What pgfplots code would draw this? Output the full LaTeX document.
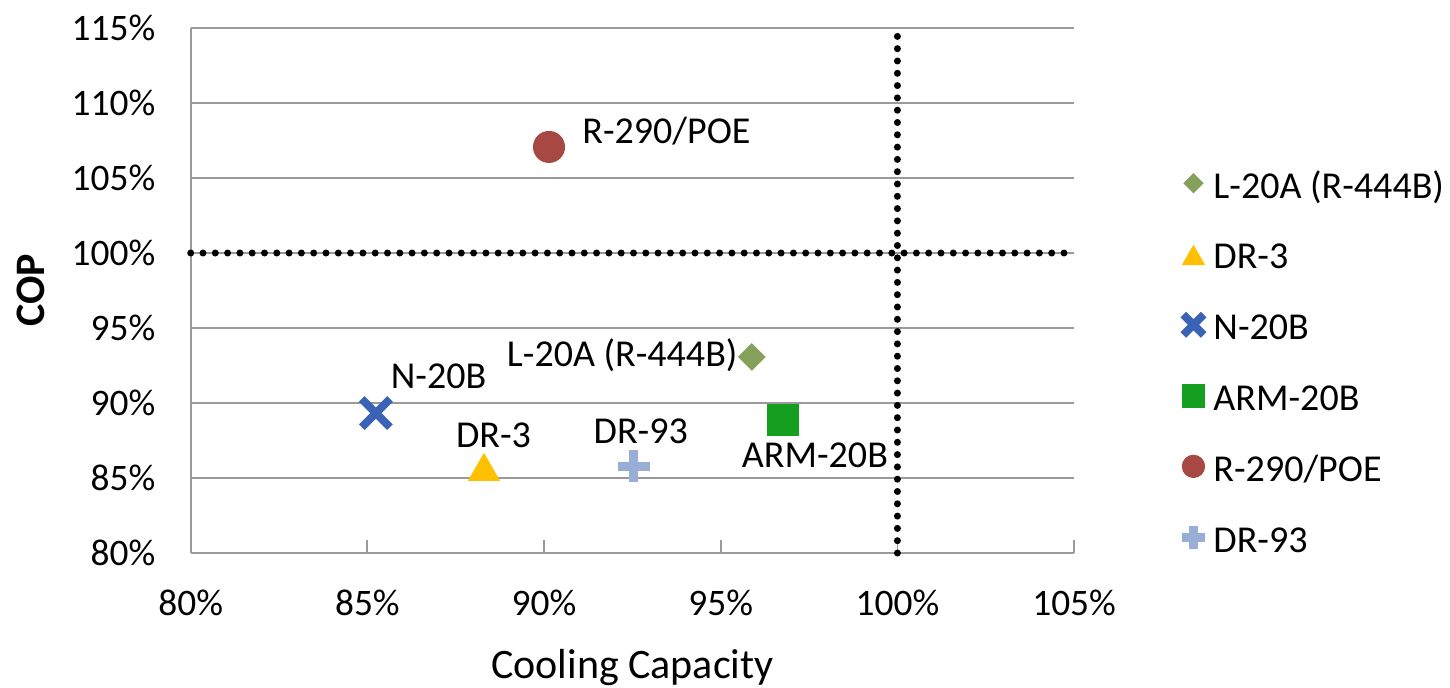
\documentclass[border=0pt]{standalone}
\usepackage{fontspec}
\setmainfont{Carlito}
\usepackage{pgfplots}
\pgfplotsset{compat=1.18}
\definecolor{cgrid}{HTML}{9A9A9A}
\definecolor{cdia}{HTML}{84A05A}
\definecolor{ctri}{HTML}{FFC000}
\definecolor{cx}{HTML}{3A63B5}
\definecolor{csq}{HTML}{14A01E}
\definecolor{ccirc}{HTML}{A84842}
\definecolor{cplus}{HTML}{98AED6}
\begin{document}
\begin{tikzpicture}[font=\fontsize{18.7bp}{22bp}\selectfont]
\begin{axis}[
  scale only axis, width=441.7bp, height=262.5bp,
  xmin=80, xmax=105, ymin=80, ymax=115,
  axis x line*=bottom, axis y line*=left,
  axis line style={cgrid, line width=0.9bp, -},
  xtick={80,85,90,95,100,105}, ytick={80,85,90,95,100,105,110,115},
  xticklabels={80\%,85\%,90\%,95\%,100\%,105\%},
  yticklabels={80\%,85\%,90\%,95\%,100\%,105\%,110\%,115\%},
  ymajorgrids, grid style={cgrid, line width=0.9bp},
  tick align=inside, major tick length=6.5bp,
  xtick style={cgrid, line width=0.9bp},
  ytick style={draw=none},
  tick label style={font=\fontsize{18.7bp}{22bp}\selectfont, text=black},
  xticklabel style={inner sep=0pt, anchor=base, yshift=-31bp},
  yticklabel style={inner sep=0pt, anchor=east, xshift=-17.5bp},
  xlabel={Cooling Capacity}, ylabel={\bfseries COP},
  xlabel style={at={([yshift=-62.5bp]axis description cs:0.5,0)}, anchor=base, inner sep=0pt, font=\fontsize{21bp}{25bp}\selectfont},
  ylabel style={at={([xshift=-79.8bp]axis description cs:0,0.5)}, anchor=center, inner sep=0pt, font=\fontsize{21bp}{25bp}\selectfont},
  legend style={at={(1.1211,0.749)}, anchor=north west, draw=none, fill=none, inner sep=0pt, row sep=12.4bp, font=\fontsize{19bp}{22bp}\selectfont, nodes={inner sep=0pt, text height=14bp, text depth=4bp, text=black}},
  legend cell align=left,
  legend image code/.code={\path[draw=none, fill=none] (-6bp,-4bp) rectangle (10bp,14bp);
    \draw[#1, every mark/.append style={scale=0.72}] plot coordinates {(0bp,2.5bp)};},
  clip=false,
  every node near coord/.append style={font=\fontsize{19bp}{22bp}\selectfont, text=black, inner sep=0pt},
]
\addplot[forget plot, black, line width=3.5bp, line cap=round, dash pattern=on 0bp off 6.15bp] coordinates {(100,80) (100,115)};
\addplot[forget plot, black, line width=3.5bp, line cap=round, dash pattern=on 0bp off 6.15bp] coordinates {(80,100) (105,100)};

\addplot[only marks, color=cdia, mark=square*, mark size=4.7bp, mark options={rotate=45, fill=cdia},
  nodes near coords={L-20A (R-444B)}, every node near coord/.append style={anchor=base east, xshift=-7bp, yshift=-5bp}]
  coordinates {(95.88,93.07)};
\addlegendentry{L-20A (R-444B)}
\addplot[only marks, color=ctri, mark=triangle*, mark size=8.9bp, mark options={yshift=-2.2bp, fill=ctri},
  nodes near coords={DR-3}, every node near coord/.append style={anchor=base, xshift=4.75bp, yshift=12bp}]
  coordinates {(88.30,85.73)};
\addlegendentry{DR-3}
\addplot[only marks, color=cx, mark=x, mark size=10bp, mark options={line width=4bp},
  nodes near coords={N-20B}, every node near coord/.append style={anchor=base west, xshift=5.5bp, yshift=12.5bp}]
  coordinates {(85.24,89.33)};
\addlegendentry{N-20B}
\addplot[only marks, color=csq, mark=square*, mark size=7.9bp, mark options={fill=csq},
  nodes near coords={ARM-20B}, every node near coord/.append style={anchor=base, xshift=16bp, yshift=-24bp}]
  coordinates {(96.76,88.87)};
\addlegendentry{ARM-20B}
\addplot[only marks, color=ccirc, mark=*, mark size=7.8bp, mark options={fill=ccirc},
  nodes near coords={R-290/POE}, every node near coord/.append style={anchor=base west, xshift=16.5bp, yshift=1.75bp}]
  coordinates {(90.14,107.07)};
\addlegendentry{R-290/POE}
\addplot[only marks, color=cplus, mark=+, mark size=7.9bp, mark options={line width=4.5bp},
  nodes near coords={DR-93}, every node near coord/.append style={anchor=base, xshift=3.5bp, yshift=11.5bp}]
  coordinates {(92.54,85.8)};
\addlegendentry{DR-93}
\end{axis}
\pgfresetboundingbox
\path[use as bounding box] ([shift={(-95.35bp,-67.5bp)}]current axis.south west) rectangle ++(725bp,344bp);
\end{tikzpicture}
\end{document}
